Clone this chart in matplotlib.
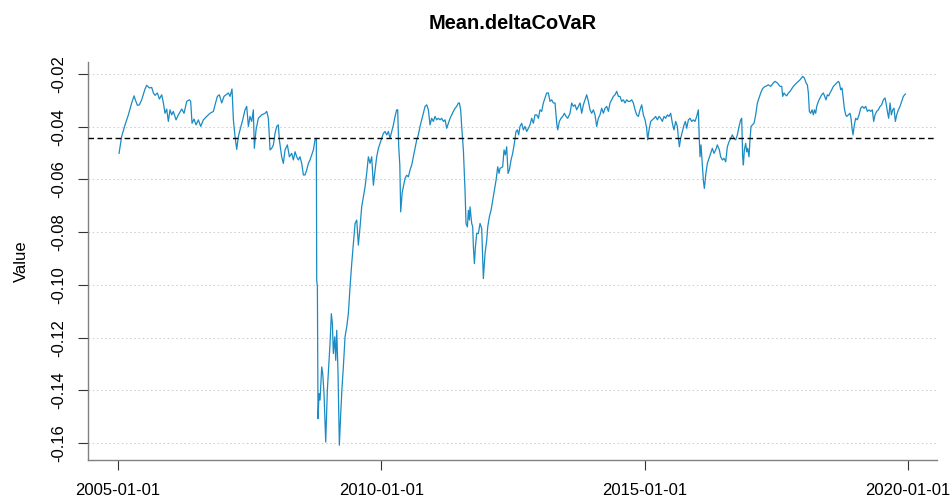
import numpy as np
import pandas as pd
import matplotlib
matplotlib.use("Agg")
import matplotlib.pyplot as plt
import matplotlib.dates as mdates

plt.rcParams['font.family'] = ['Liberation Sans', 'DejaVu Sans']

# --- datos: tiempo en años decimales, valor de Mean.deltaCoVaR ---
t_2005_2008 = [
    2005.019, 2005.069, 2005.133, 2005.196, 2005.259, 2005.304, 2005.323, 2005.367, 2005.405, 2005.449,
    2005.512, 2005.544, 2005.595, 2005.639, 2005.671, 2005.702, 2005.747, 2005.785, 2005.829, 2005.861,
    2005.892, 2005.924, 2005.955, 2005.987, 2006.019, 2006.050, 2006.101, 2006.145, 2006.209, 2006.253,
    2006.304, 2006.354, 2006.379, 2006.405, 2006.443, 2006.481, 2006.525, 2006.569, 2006.620, 2006.683,
    2006.747, 2006.810, 2006.842, 2006.886, 2006.924, 2006.968, 2007.012, 2007.050, 2007.095, 2007.126,
    2007.164, 2007.190, 2007.221, 2007.253, 2007.285, 2007.316, 2007.367, 2007.411, 2007.443, 2007.475,
    2007.506, 2007.538, 2007.569, 2007.588, 2007.620, 2007.664, 2007.728, 2007.791, 2007.823, 2007.854,
    2007.886, 2007.917, 2007.949, 2007.981, 2008.012, 2008.044, 2008.063, 2008.107, 2008.139, 2008.171,
    2008.215, 2008.253, 2008.297, 2008.329, 2008.361, 2008.392, 2008.424, 2008.455, 2008.487, 2008.519,
    2008.550, 2008.582, 2008.614, 2008.645, 2008.677, 2008.709, 2008.740, 2008.765,
]
v_2005_2008 = [
    -0.0501, -0.0437, -0.0393, -0.0355, -0.0310, -0.0283, -0.0295, -0.0319, -0.0317, -0.0298,
    -0.0257, -0.0243, -0.0253, -0.0251, -0.0272, -0.0281, -0.0272, -0.0295, -0.0279, -0.0310,
    -0.0349, -0.0333, -0.0380, -0.0336, -0.0355, -0.0342, -0.0374, -0.0355, -0.0333, -0.0349,
    -0.0304, -0.0298, -0.0304, -0.0387, -0.0371, -0.0393, -0.0374, -0.0399, -0.0374, -0.0361,
    -0.0349, -0.0342, -0.0317, -0.0285, -0.0279, -0.0310, -0.0285, -0.0279, -0.0272, -0.0285,
    -0.0257, -0.0374, -0.0437, -0.0486, -0.0437, -0.0412, -0.0374, -0.0336, -0.0323, -0.0399,
    -0.0361, -0.0380, -0.0336, -0.0482, -0.0412, -0.0368, -0.0355, -0.0349, -0.0342, -0.0368,
    -0.0488, -0.0482, -0.0469, -0.0425, -0.0399, -0.0393, -0.0450, -0.0514, -0.0539, -0.0488,
    -0.0469, -0.0514, -0.0501, -0.0526, -0.0495, -0.0514, -0.0526, -0.0514, -0.0539, -0.0583,
    -0.0583, -0.0564, -0.0539, -0.0526, -0.0507, -0.0488, -0.0450, -0.0444,
]

t_crisis = [
    2008.772, 2008.785, 2008.797, 2008.816, 2008.835, 2008.867, 2008.886, 2008.911, 2008.943, 2008.974,
    2009.000, 2009.025, 2009.050, 2009.069, 2009.088, 2009.114, 2009.133, 2009.152, 2009.177, 2009.202,
    2009.228, 2009.253, 2009.278, 2009.310, 2009.342, 2009.373, 2009.405, 2009.437, 2009.468, 2009.500,
    2009.532, 2009.563, 2009.595, 2009.626, 2009.658, 2009.690, 2009.721, 2009.753, 2009.785, 2009.816,
    2009.848, 2009.880, 2009.911, 2009.943, 2009.974, 2010.006,
]
v_crisis = [
    -0.0982, -0.1007, -0.1507, -0.1412, -0.1437, -0.1311, -0.1336, -0.1412, -0.1596, -0.1399,
    -0.1305, -0.1222, -0.1109, -0.1146, -0.1260, -0.1197, -0.1286, -0.1172, -0.1336, -0.1608,
    -0.1488, -0.1387, -0.1311, -0.1197, -0.1159, -0.1109, -0.1007, -0.0919, -0.0843, -0.0767,
    -0.0754, -0.0849, -0.0780, -0.0704, -0.0666, -0.0628, -0.0577, -0.0514, -0.0539, -0.0514,
    -0.0622, -0.0565, -0.0514, -0.0482, -0.0463, -0.0444,
]

t_2010_2011 = [
    2010.038, 2010.069, 2010.101, 2010.133, 2010.164, 2010.196, 2010.228, 2010.259, 2010.291, 2010.310,
    2010.329, 2010.350, 2010.367, 2010.395, 2010.417, 2010.449, 2010.481, 2010.513, 2010.544, 2010.576,
    2010.607, 2010.639, 2010.671, 2010.702, 2010.734, 2010.766, 2010.797, 2010.829, 2010.861, 2010.892,
    2010.924, 2010.955, 2010.987, 2011.019, 2011.050, 2011.082, 2011.114, 2011.145, 2011.177, 2011.209,
    2011.240, 2011.272, 2011.304, 2011.335, 2011.367, 2011.399, 2011.430, 2011.462, 2011.481, 2011.506,
    2011.525, 2011.557,
]
v_2010_2011 = [
    -0.0425, -0.0418, -0.0431, -0.0418, -0.0444, -0.0418, -0.0393, -0.0361, -0.0336, -0.0336,
    -0.0476, -0.0545, -0.0723, -0.0650, -0.0628, -0.0596, -0.0584, -0.0590, -0.0564, -0.0545,
    -0.0514, -0.0482, -0.0450, -0.0431, -0.0399, -0.0374, -0.0349, -0.0323, -0.0317, -0.0336,
    -0.0393, -0.0368, -0.0380, -0.0361, -0.0374, -0.0368, -0.0374, -0.0368, -0.0380, -0.0374,
    -0.0406, -0.0387, -0.0368, -0.0355, -0.0342, -0.0330, -0.0323, -0.0310, -0.0310, -0.0337,
    -0.0400, -0.0489,
]

t_2011_2012 = [
    2011.588, 2011.607, 2011.633, 2011.652, 2011.671, 2011.683, 2011.715, 2011.734, 2011.747, 2011.766,
    2011.785, 2011.810, 2011.841, 2011.873, 2011.905, 2011.924, 2011.936, 2011.968, 2012.000, 2012.019,
    2012.050, 2012.082, 2012.114, 2012.145, 2012.177, 2012.209, 2012.234,
]
v_2011_2012 = [
    -0.0641, -0.0767, -0.0780, -0.0717, -0.0754, -0.0704, -0.0767, -0.0780, -0.0856, -0.0919,
    -0.0856, -0.0805, -0.0805, -0.0767, -0.0786, -0.0906, -0.0976, -0.0881, -0.0830, -0.0780,
    -0.0742, -0.0717, -0.0679, -0.0641, -0.0603, -0.0552, -0.0577,
]

t_2012_2016 = [
    2012.253, 2012.303, 2012.329, 2012.354, 2012.379, 2012.405, 2012.430, 2012.462, 2012.493, 2012.525,
    2012.556, 2012.582, 2012.607, 2012.632, 2012.664, 2012.696, 2012.727, 2012.759, 2012.791, 2012.822,
    2012.854, 2012.886, 2012.917, 2012.949, 2012.981, 2013.012, 2013.044, 2013.075, 2013.107, 2013.139,
    2013.170, 2013.202, 2013.234, 2013.265, 2013.297, 2013.329, 2013.348, 2013.379, 2013.411, 2013.443,
    2013.474, 2013.506, 2013.538, 2013.582, 2013.613, 2013.645, 2013.677, 2013.708, 2013.740, 2013.772,
    2013.803, 2013.835, 2013.867, 2013.898, 2013.930, 2013.962, 2013.993, 2014.025, 2014.056, 2014.088,
    2014.120, 2014.151, 2014.183, 2014.215, 2014.246, 2014.278, 2014.310, 2014.341, 2014.373, 2014.405,
    2014.436, 2014.468, 2014.500, 2014.531, 2014.563, 2014.594, 2014.626, 2014.658, 2014.689, 2014.721,
    2014.753, 2014.784, 2014.816, 2014.848, 2014.879, 2014.911, 2014.943, 2014.974, 2015.006, 2015.037,
    2015.056, 2015.082, 2015.113, 2015.145, 2015.177, 2015.208, 2015.240, 2015.272, 2015.303, 2015.335,
    2015.367, 2015.398, 2015.430, 2015.461, 2015.493, 2015.525, 2015.556, 2015.588, 2015.620, 2015.639,
    2015.658, 2015.683, 2015.715, 2015.746, 2015.772, 2015.797, 2015.829, 2015.860, 2015.892, 2015.924,
    2015.955, 2015.987, 2016.018, 2016.037, 2016.050, 2016.069, 2016.088, 2016.113, 2016.132, 2016.158,
    2016.189, 2016.221, 2016.252, 2016.284, 2016.316, 2016.347, 2016.379, 2016.417,
]
v_2012_2016 = [
    -0.0558, -0.0552, -0.0488, -0.0507, -0.0476, -0.0577, -0.0564, -0.0526, -0.0501, -0.0463,
    -0.0418, -0.0412, -0.0431, -0.0399, -0.0387, -0.0412, -0.0399, -0.0418, -0.0406, -0.0393,
    -0.0368, -0.0387, -0.0355, -0.0355, -0.0368, -0.0336, -0.0342, -0.0310, -0.0291, -0.0272,
    -0.0272, -0.0304, -0.0298, -0.0310, -0.0310, -0.0387, -0.0412, -0.0380, -0.0368, -0.0361,
    -0.0349, -0.0361, -0.0368, -0.0349, -0.0310, -0.0323, -0.0317, -0.0336, -0.0323, -0.0310,
    -0.0349, -0.0317, -0.0298, -0.0279, -0.0304, -0.0336, -0.0349, -0.0336, -0.0355, -0.0399,
    -0.0368, -0.0355, -0.0330, -0.0349, -0.0330, -0.0323, -0.0342, -0.0310, -0.0298, -0.0285,
    -0.0279, -0.0266, -0.0285, -0.0285, -0.0304, -0.0298, -0.0310, -0.0298, -0.0304, -0.0304,
    -0.0298, -0.0310, -0.0336, -0.0355, -0.0361, -0.0336, -0.0317, -0.0355, -0.0374, -0.0406,
    -0.0450, -0.0412, -0.0380, -0.0374, -0.0368, -0.0361, -0.0374, -0.0361, -0.0368, -0.0380,
    -0.0361, -0.0368, -0.0355, -0.0361, -0.0349, -0.0387, -0.0412, -0.0380, -0.0399, -0.0444,
    -0.0476, -0.0444, -0.0418, -0.0393, -0.0380, -0.0406, -0.0374, -0.0368, -0.0380, -0.0374,
    -0.0380, -0.0361, -0.0336, -0.0450, -0.0514, -0.0469, -0.0526, -0.0603, -0.0634, -0.0583,
    -0.0539, -0.0520, -0.0501, -0.0482, -0.0501, -0.0488, -0.0469, -0.0488,
]

t_2016_2019 = [
    2016.442, 2016.474, 2016.506, 2016.537, 2016.569, 2016.601, 2016.632, 2016.664, 2016.696, 2016.727,
    2016.759, 2016.791, 2016.822, 2016.841, 2016.860, 2016.873, 2016.892, 2016.917, 2016.936, 2016.955,
    2016.980, 2016.999, 2017.018, 2017.044, 2017.075, 2017.107, 2017.139, 2017.170, 2017.202, 2017.234,
    2017.265, 2017.297, 2017.347, 2017.392, 2017.442, 2017.474, 2017.518, 2017.569, 2017.601, 2017.620,
    2017.645, 2017.670, 2017.696, 2017.727, 2017.759, 2017.790, 2017.822, 2017.885, 2017.949, 2017.999,
    2018.031, 2018.063, 2018.088, 2018.107, 2018.126, 2018.151, 2018.177, 2018.202, 2018.221, 2018.246,
    2018.265, 2018.297, 2018.328, 2018.360, 2018.392, 2018.417, 2018.442, 2018.468, 2018.493, 2018.518,
    2018.550, 2018.582, 2018.613, 2018.645, 2018.677, 2018.696, 2018.721, 2018.746, 2018.771, 2018.790,
    2018.816, 2018.835, 2018.866, 2018.898, 2018.917, 2018.936, 2018.955, 2018.980, 2019.006, 2019.037,
    2019.069, 2019.101, 2019.132, 2019.164, 2019.196, 2019.227, 2019.259, 2019.291, 2019.322, 2019.347,
    2019.373, 2019.404, 2019.436, 2019.468, 2019.499, 2019.531, 2019.563, 2019.582, 2019.607, 2019.632,
    2019.658, 2019.683, 2019.708, 2019.733, 2019.759, 2019.784, 2019.816, 2019.847, 2019.879, 2019.911,
    2019.949,
]
v_2016_2019 = [
    -0.0514, -0.0526, -0.0520, -0.0533, -0.0476, -0.0457, -0.0444, -0.0431, -0.0444, -0.0450,
    -0.0431, -0.0399, -0.0374, -0.0368, -0.0514, -0.0545, -0.0488, -0.0463, -0.0495, -0.0482,
    -0.0514, -0.0450, -0.0399, -0.0393, -0.0387, -0.0355, -0.0310, -0.0291, -0.0272, -0.0257,
    -0.0250, -0.0247, -0.0241, -0.0247, -0.0234, -0.0228, -0.0234, -0.0247, -0.0247, -0.0285,
    -0.0272, -0.0279, -0.0283, -0.0272, -0.0266, -0.0257, -0.0247, -0.0234, -0.0222, -0.0209,
    -0.0215, -0.0234, -0.0241, -0.0272, -0.0342, -0.0349, -0.0336, -0.0355, -0.0336, -0.0349,
    -0.0323, -0.0304, -0.0291, -0.0279, -0.0272, -0.0285, -0.0298, -0.0279, -0.0283, -0.0272,
    -0.0260, -0.0247, -0.0241, -0.0234, -0.0228, -0.0234, -0.0260, -0.0253, -0.0298, -0.0330,
    -0.0355, -0.0361, -0.0355, -0.0349, -0.0368, -0.0406, -0.0431, -0.0393, -0.0368, -0.0374,
    -0.0355, -0.0330, -0.0323, -0.0330, -0.0323, -0.0342, -0.0336, -0.0342, -0.0336, -0.0380,
    -0.0355, -0.0342, -0.0336, -0.0323, -0.0317, -0.0298, -0.0291, -0.0310, -0.0342, -0.0368,
    -0.0310, -0.0355, -0.0336, -0.0330, -0.0380, -0.0355, -0.0336, -0.0323, -0.0304, -0.0285,
    -0.0276,
]

mean_level = -0.0443  # linea discontinua horizontal
y_ticks = [-0.16, -0.14, -0.12, -0.10, -0.08, -0.06, -0.04, -0.02]
x_ticks = ["2005-01-01", "2010-01-01", "2015-01-01", "2020-01-01"]

t_years = np.concatenate([t_2005_2008, t_crisis, t_2010_2011, t_2011_2012, t_2012_2016, t_2016_2019])
values = np.concatenate([v_2005_2008, v_crisis, v_2010_2011, v_2011_2012, v_2012_2016, v_2016_2019])
dates = pd.Timestamp("2005-01-01") + pd.to_timedelta((t_years - 2005) * 365.25, unit="D")

# --- figura ---
fig = plt.figure(figsize=(9.51, 5.04), dpi=100)
ax = fig.add_axes([0.0921, 0.0873, 0.8930, 0.7905])

ax.plot(dates, values, color='#1a8bc4', lw=0.9, zorder=3)
ax.axhline(mean_level, color='black', lw=1.0, ls=(0, (4, 2.5)), zorder=4)
ax.margins(x=0.04, y=0.04)

ax.set_yticks(y_ticks)
ax.set_yticklabels([f"{v:.2f}" for v in y_ticks], rotation=90, va='center')
ax.yaxis.grid(True, color='#cfcfcf', lw=0.75, ls=(0, (1.5, 2.5)))
ax.set_xticks(pd.to_datetime(x_ticks))
ax.xaxis.set_major_formatter(mdates.DateFormatter('%Y-%m-%d'))

for s in ['top', 'right']:
    ax.spines[s].set_visible(False)
for s in ['left', 'bottom']:
    ax.spines[s].set_color('#808080')
    ax.spines[s].set_linewidth(1.0)

ax.tick_params(axis='both', length=7.2, width=0.8, color='#333333', labelsize=12)
ax.tick_params(axis='x', pad=9.4)
ax.tick_params(axis='y', pad=8.3)

ax.set_ylabel("Value", fontsize=12)
ax.yaxis.set_label_coords(-0.0696, 0.5)
ax.set_title("Mean.deltaCoVaR", fontsize=14.4, fontweight='bold', pad=23.5)

fig.savefig("out.png", dpi=100)
